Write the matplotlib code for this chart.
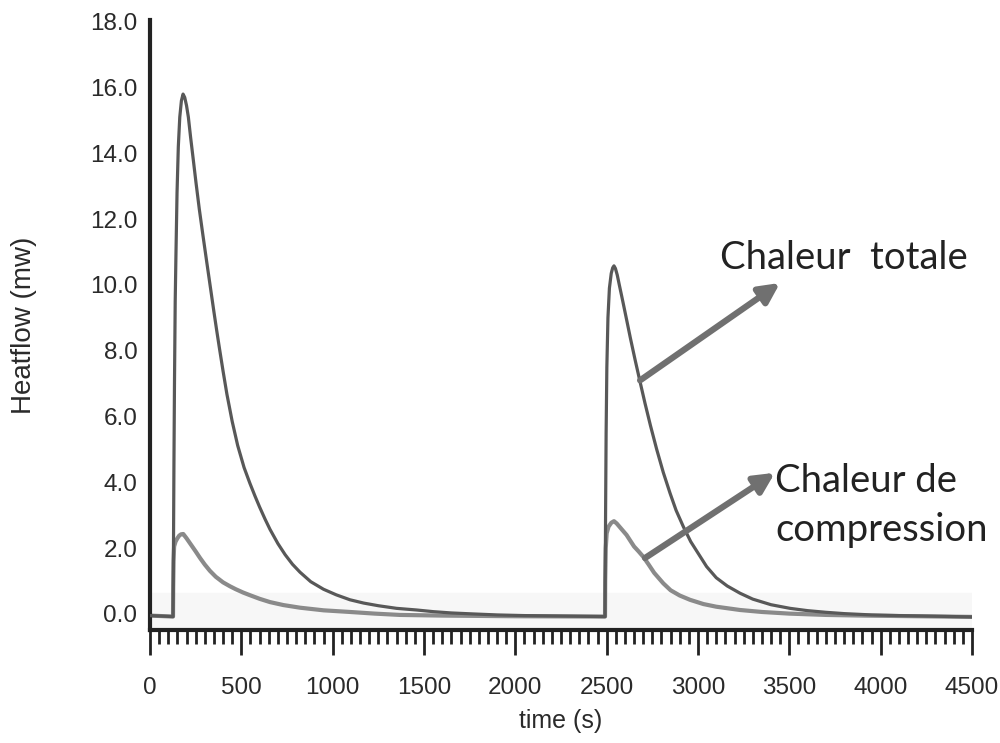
import numpy as np
import matplotlib
matplotlib.use("Agg")
import matplotlib.pyplot as plt
from matplotlib.ticker import MultipleLocator, FormatStrFormatter

# values (time in s, heatflow in mW)
t_total = [0, 126, 127, 129, 131, 134, 138, 142, 148, 155, 163, 172, 181, 190, 200, 210,
           222, 236, 252, 270, 290, 310, 330, 350, 365, 380, 400, 421, 450, 480, 515,
           547, 575, 600, 630, 657, 700, 740, 780, 821, 880, 950, 1020, 1095, 1170,
           1250, 1350, 1460, 1550, 1650, 1770, 1900, 2050, 2200, 2350,
           2491, 2492, 2494, 2497, 2501, 2507, 2515, 2525, 2533, 2540, 2548, 2558, 2570,
           2580, 2591, 2610, 2630, 2655, 2683, 2710, 2740, 2774, 2810, 2847, 2880, 2920,
           2960, 3000, 3047, 3100, 3160, 3230, 3300, 3400, 3504, 3600, 3700, 3800, 3950,
           4100, 4300, 4500]
v_total = [-0.05, -0.08, 0.5, 2.5, 4.5, 7.0, 9.5, 10.9, 12.8, 14.2, 15.1, 15.6, 15.8, 15.7,
           15.45, 15.1, 14.5, 13.85, 13.1, 12.3, 11.5, 10.72, 9.95, 9.18, 8.62, 8.08,
           7.38, 6.68, 5.85, 5.12, 4.45, 3.97, 3.58, 3.25, 2.88, 2.57, 2.14, 1.8, 1.51,
           1.27, 0.98, 0.75, 0.58, 0.43, 0.33, 0.25, 0.17, 0.12, 0.07, 0.03, 0.0, -0.03,
           -0.05, -0.06, -0.07,
           -0.08, 1.0, 3.0, 5.5, 7.5, 9.0, 9.9, 10.35, 10.52, 10.58, 10.5, 10.3, 9.98,
           9.72, 9.43, 8.92, 8.38, 7.74, 7.05, 6.4, 5.72, 5.0, 4.3, 3.67, 3.15, 2.65, 2.2,
           1.85, 1.44, 1.1, 0.85, 0.63, 0.45, 0.28, 0.17, 0.1, 0.05, 0.01, -0.03, -0.05,
           -0.07, -0.09]

t_comp = [0, 126, 127, 129, 132, 140, 150, 160, 170, 182, 200, 225, 250, 274, 300, 328,
          360, 400, 438, 470, 510, 547, 600, 657, 730, 821, 950, 1095, 1230, 1368, 1600,
          2000, 2491, 2492, 2495, 2500, 2510, 2525, 2540, 2555, 2575, 2609, 2630, 2650,
          2675, 2700, 2730, 2760, 2810, 2850, 2900, 2956, 3030, 3100, 3230, 3350, 3500,
          3700, 3900, 4200, 4500]
v_comp = [-0.05, -0.08, 0.8, 1.6, 2.05, 2.2, 2.3, 2.38, 2.42, 2.43, 2.3, 2.1, 1.9, 1.7,
          1.5, 1.31, 1.13, 0.96, 0.84, 0.75, 0.65, 0.57, 0.46, 0.36, 0.27, 0.19, 0.11,
          0.06, 0.01, -0.03, -0.05, -0.07, -0.08, 1.0, 2.0, 2.45, 2.65, 2.77, 2.82, 2.75,
          2.62, 2.4, 2.22, 2.05, 1.9, 1.74, 1.5, 1.25, 0.93, 0.72, 0.56, 0.43, 0.3, 0.22,
          0.12, 0.06, 0.01, -0.03, -0.05, -0.07, -0.09]

plt.rcParams['font.family'] = ['Liberation Sans', 'DejaVu Sans']

fig = plt.figure(figsize=(10, 7.43), dpi=100)
ax = fig.add_axes([0.15, 0.152, 0.822, 0.821])

ax.axhspan(-0.5, 0.65, color='#f7f7f7', zorder=0)
ax.plot(t_comp, v_comp, color='#8a8a8a', lw=3.0, solid_joinstyle='round', zorder=2)
ax.plot(t_total, v_total, color='#585858', lw=2.3, solid_joinstyle='round', zorder=3)

ax.set_xlim(0, 4500)
ax.set_ylim(-0.49, 18.05)

ax.xaxis.set_major_locator(MultipleLocator(500))
ax.xaxis.set_minor_locator(MultipleLocator(50))
ax.yaxis.set_major_locator(MultipleLocator(2))
ax.yaxis.set_major_formatter(FormatStrFormatter('%.1f'))

ax.tick_params(axis='x', which='major', length=18, width=2, color='#222222',
               labelsize=17.5, pad=16, labelcolor='#2a2a2a')
ax.tick_params(axis='x', which='minor', length=10, width=2, color='#222222')
ax.tick_params(axis='y', length=0, labelsize=17.5, pad=9, labelcolor='#2a2a2a')

for s in ['top', 'right']:
    ax.spines[s].set_visible(False)
for s in ['left', 'bottom']:
    ax.spines[s].set_linewidth(3)
    ax.spines[s].set_color('#222222')

ax.set_xlabel('time (s)', fontsize=18, color='#2a2a2a', labelpad=7)
ax.set_ylabel('Heatflow (mw)', fontsize=20, color='#2a2a2a', labelpad=38)

# annotations
arrow_kw = dict(arrowstyle='-|>,head_length=0.6,head_width=0.3', lw=4.5,
                color='#707070', mutation_scale=20, shrinkA=0, shrinkB=0)
ax.annotate('', xy=(3449, 10.06), xytext=(2683, 7.1), arrowprops=arrow_kw, zorder=4)
ax.annotate('', xy=(3421, 4.29), xytext=(2710, 1.7), arrowprops=arrow_kw, zorder=4)

lab_font = ['Lato', 'Open Sans', 'DejaVu Sans']
ax.text(3120, 10.82, 'Chaleur  totale', fontsize=27.5, color='#222222',
        va='center', ha='left', family=lab_font)
ax.text(3421, 3.3, 'Chaleur de\ncompression', fontsize=27.5, color='#222222',
        va='center', ha='left', linespacing=1.45, family=lab_font)

fig.savefig('out.png', dpi=100)
